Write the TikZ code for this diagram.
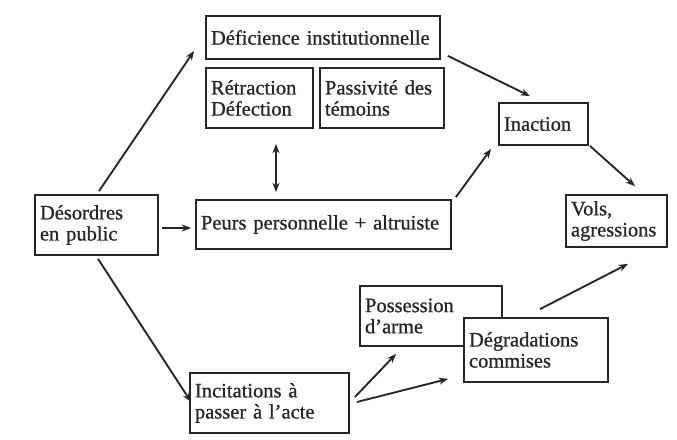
\documentclass[tikz,border=0pt]{standalone}
\usepackage{fontspec}
\setmainfont{Liberation Serif}
\newfontfamily\boxfont{Liberation Serif}[FakeBold=0.8]
\usetikzlibrary{arrows.meta,calc}
\tikzset{
  box/.style={draw=black!85, line width=1.5pt, fill=white, align=left, inner xsep=0.15cm, inner ysep=0pt,
    text width=#1, font=\boxfont\fontsize{17.5}{18}\selectfont, text=black!85},
  arr/.style={draw=black!85, line width=1.6pt, -{Stealth[length=8pt,width=6pt]}},
  darr/.style={draw=black!85, line width=1.6pt, {Stealth[length=8pt,width=6pt]}-{Stealth[length=8pt,width=6pt]}},
}
\begin{document}
\begin{tikzpicture}[x=0.03cm,y=-0.03cm]
\useasboundingbox (0,0) rectangle (677,439);
\node[box=6.72cm, minimum height=1.29cm] (defic) at (323,37.5){Déficience institutionnelle};
\node[box=2.91cm, minimum height=1.8cm] (retract) at (259.5,98){Rétraction\\Défection};
\node[box=3.42cm, minimum height=1.8cm] (passiv) at (382,98){Passivité des\\témoins};
\node[box=2.37cm, minimum height=1.26cm] (inaction) at (543.5,124){Inaction};
\node[box=3.39cm, minimum height=1.8cm] (desord) at (96.5,225){Désordres\\en public};
\node[box=7.35cm, minimum height=1.47cm] (peurs) at (323.5,224.5){Peurs personnelle + altruiste};
\node[box=2.73cm, minimum height=1.56cm] (vols) at (616.5,221){Vols,\\agressions};
\node[box=3.96cm, minimum height=1.8cm] (possess) at (431,316){Possession\\d’arme};
\node[box=4.02cm, minimum height=1.92cm] (degrad) at (536,350){Dégradations\\commises};
\node[box=4.47cm, minimum height=1.8cm] (incit) at (269.5,403){Incitations à\\passer à l’acte};
\draw[arr] ($(desord.north)+(2.5,-3)$) -- ($(defic.south west)+(-11,-9)$);
\draw[arr] ($(defic.south east)+(7,-4)$) -- ($(inaction.north)+(-13.5,-6)$);
\draw[darr] ($(retract.south)+(16.5,15)$) -- ($(peurs.north)+(-47.5,-7)$);
\draw[arr] ($(desord.east)+(3,3)$) -- ($(peurs.west)+(-4,3.5)$);
\draw[arr] ($(peurs.north east)+(4,-2)$) -- ($(inaction.south west)+(-7,3)$);
\draw[arr] ($(inaction.south east)+(1,0)$) -- ($(vols.north)+(18.5,-8)$);
\draw[arr] ($(desord.south)+(1.5,3)$) -- ($(incit.west)+(2,-1)$);
\draw[arr] ($(incit.east)+(5,-6)$) -- ($(possess.south west)+(37,7)$);
\draw[arr] ($(incit.east)+(7,-1)$) -- ($(degrad.south west)+(-15,-4)$);
\draw[arr] ($(degrad.north)+(4,-8)$) -- ($(vols.south)+(11.5,16)$);
\end{tikzpicture}
\end{document}
